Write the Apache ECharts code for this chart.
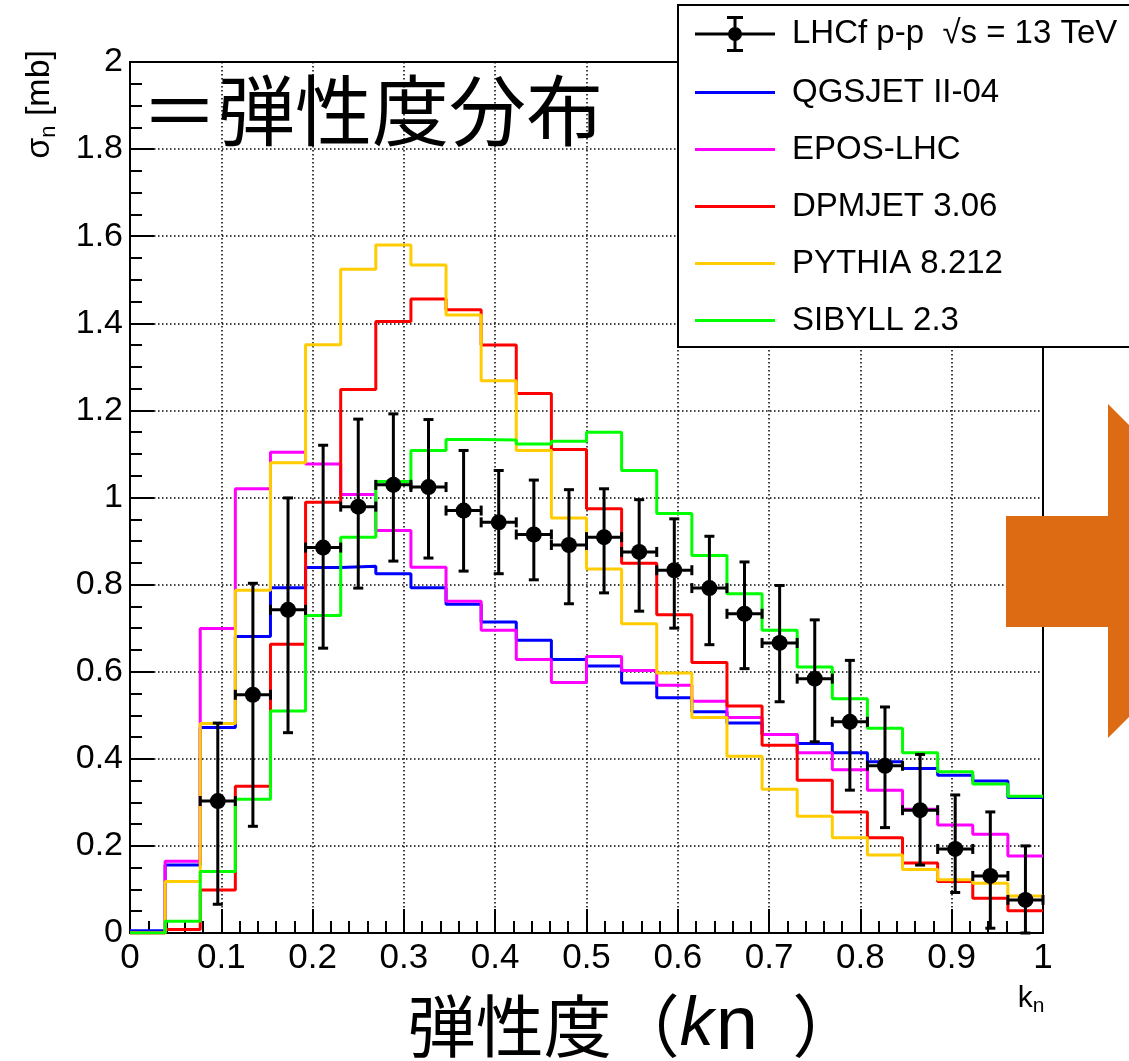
<!DOCTYPE html>
<html>
<head>
<meta charset="utf-8">
<script src="https://cdn.jsdelivr.net/npm/echarts@6/dist/echarts.min.js"></script>
<style>
  html, body { margin: 0; padding: 0; background: #fff; }
  #chart { width: 1129px; height: 1061px; }
</style>
</head>
<body>
<div id="chart"></div>
<script>
// 26 bins from 0 to 1 in k_n
const nBins = 26
const binWidth = 1 / nBins
const binEdges = Array.from({ length: nBins + 1 }, (_, i) => i * binWidth)

// MC predictions, one value per bin [mb]
const qgsjet = [0.005, 0.156, 0.472, 0.681, 0.793, 0.839, 0.842, 0.825, 0.793, 0.755, 0.714, 0.672, 0.628,
  0.613, 0.574, 0.540, 0.508, 0.482, 0.456, 0.435, 0.414, 0.393, 0.378, 0.362, 0.349, 0.311]
const eposLhc = [0.0, 0.165, 0.699, 1.020, 1.104, 1.077, 1.007, 0.924, 0.840, 0.762, 0.695, 0.628, 0.575,
  0.635, 0.603, 0.569, 0.532, 0.495, 0.456, 0.414, 0.375, 0.328, 0.284, 0.248, 0.227, 0.177]
const dpmjet = [0.0, 0.008, 0.099, 0.337, 0.663, 0.989, 1.248, 1.404, 1.456, 1.431, 1.350, 1.239, 1.110,
  0.974, 0.849, 0.731, 0.621, 0.521, 0.431, 0.351, 0.278, 0.219, 0.161, 0.118, 0.080, 0.051]
const pythia = [0.0, 0.118, 0.481, 0.787, 1.080, 1.351, 1.524, 1.580, 1.534, 1.419, 1.268, 1.108, 0.953,
  0.836, 0.710, 0.597, 0.495, 0.406, 0.330, 0.268, 0.219, 0.179, 0.146, 0.122, 0.114, 0.085]
const sibyll = [0.0, 0.027, 0.141, 0.307, 0.510, 0.729, 0.909, 1.037, 1.108, 1.133, 1.132, 1.123, 1.129,
  1.150, 1.062, 0.963, 0.867, 0.779, 0.695, 0.611, 0.538, 0.470, 0.414, 0.370, 0.342, 0.314]

// LHCf data, starting from the 3rd bin
const lhcfFirstBin = 2
const lhcfVal = [0.303, 0.547, 0.742, 0.885, 0.979, 1.029, 1.024, 0.970, 0.943, 0.915, 0.891, 0.909,
  0.875, 0.833, 0.792, 0.733, 0.666, 0.584, 0.485, 0.384, 0.282, 0.193, 0.131, 0.076]
const lhcfLow = [0.066, 0.245, 0.460, 0.654, 0.792, 0.854, 0.861, 0.831, 0.825, 0.811, 0.756, 0.781,
  0.739, 0.700, 0.662, 0.607, 0.531, 0.439, 0.328, 0.242, 0.156, 0.093, 0.011, 0.0]
const lhcfHigh = [0.482, 0.803, 0.999, 1.120, 1.180, 1.192, 1.179, 1.108, 1.062, 1.040, 1.018, 1.020,
  0.995, 0.951, 0.911, 0.852, 0.798, 0.719, 0.626, 0.519, 0.410, 0.317, 0.278, 0.200]

const yTicks = [0, 0.2, 0.4, 0.6, 0.8, 1, 1.2, 1.4, 1.6, 1.8, 2]
const xTicks = [0, 0.1, 0.2, 0.3, 0.4, 0.5, 0.6, 0.7, 0.8, 0.9, 1]

const dataName = 'LHCf p-p  \u221As = 13 TeV'
const models = [
  { name: 'QGSJET II-04', values: qgsjet, color: '#0000ff' },
  { name: 'EPOS-LHC', values: eposLhc, color: '#ff00ff' },
  { name: 'DPMJET 3.06', values: dpmjet, color: '#ff0000' },
  { name: 'PYTHIA 8.212', values: pythia, color: '#ffcc00' },
  { name: 'SIBYLL 2.3', values: sibyll, color: '#00ff00' }
]

const rootFont = '"Liberation Sans", Arial, Helvetica, sans-serif'
const cjkFont = '"Noto Sans CJK JP", "Noto Sans CJK SC", sans-serif'

// histogram outline: each bin gives two points (left edge, right edge)
function histPoints(vals) {
  const pts = []
  vals.forEach((v, i) => {
    pts.push([binEdges[i], v])
    pts.push([binEdges[i + 1], v])
  })
  return pts
}

const lhcfData = lhcfVal.map((v, i) => {
  const b = lhcfFirstBin + i
  return [(binEdges[b] + binEdges[b + 1]) / 2, v, lhcfLow[i], lhcfHigh[i]]
})

const chart = echarts.init(document.getElementById('chart'), null, { renderer: 'canvas' })

const lineSeries = models.map(m => ({
  name: m.name,
  type: 'line',
  data: histPoints(m.values),
  symbol: 'none',
  lineStyle: { color: m.color, width: 3 },
  itemStyle: { color: m.color },
  animation: false,
  z: 3
}))

const dataSeries = {
  name: dataName,
  type: 'custom',
  data: lhcfData,
  itemStyle: { color: '#000' },
  z: 5,
  animation: false,
  renderItem: (params, api) => {
    const x = api.value(0)
    const y = api.value(1)
    const hw = binWidth / 2
    const c = api.coord([x, y])
    const l = api.coord([x - hw, y])
    const r = api.coord([x + hw, y])
    const t = api.coord([x, api.value(3)])
    const b = api.coord([x, api.value(2)])
    const st = { stroke: '#000', lineWidth: 3 }
    const cap = 5
    const seg = (x1, y1, x2, y2) => ({ type: 'line', shape: { x1, y1, x2, y2 }, style: st })
    return {
      type: 'group',
      children: [
        seg(t[0], t[1], b[0], b[1]),
        seg(l[0], l[1], r[0], r[1]),
        seg(t[0] - cap, t[1], t[0] + cap, t[1]),
        seg(b[0] - cap, b[1], b[0] + cap, b[1]),
        seg(l[0], l[1] - cap, l[0], l[1] + cap),
        seg(r[0], r[1] - cap, r[0], r[1] + cap),
        { type: 'circle', shape: { cx: c[0], cy: c[1], r: 8 }, style: { fill: '#000' } }
      ]
    }
  }
}

const dataIcon = 'path://M0,16.5L80,16.5L80,19.5L0,19.5Z M38.5,0L41.5,0L41.5,36L38.5,36Z ' +
  'M32,0L48,0L48,3L32,3Z M32,33L48,33L48,36L32,36Z M33,18A7,7 0 1,1 47,18A7,7 0 1,1 33,18Z'
const lineIcon = 'path://M0,0L80,0L80,3L0,3Z'

const option = {
  backgroundColor: '#fff',
  animation: false,
  grid: {
    left: 130, top: 62, right: 86, bottom: 128,
    show: true, borderColor: '#000', borderWidth: 2, backgroundColor: 'transparent'
  },
  xAxis: {
    type: 'value', min: xTicks[0], max: xTicks[xTicks.length - 1], interval: 0.1,
    axisLine: { onZero: false, lineStyle: { color: '#000', width: 2 } },
    axisTick: { inside: true, length: 24, lineStyle: { color: '#000', width: 2 } },
    minorTick: { show: true, splitNumber: 5, length: 12, lineStyle: { color: '#000', width: 2 } },
    axisLabel: { fontFamily: rootFont, fontSize: 35, color: '#000', margin: 8 },
    splitLine: { show: true, lineStyle: { color: '#000', width: 1.5, type: [1.5, 2.5] } }
  },
  yAxis: {
    type: 'value', min: yTicks[0], max: yTicks[yTicks.length - 1], interval: 0.2,
    axisLine: { onZero: false, lineStyle: { color: '#000', width: 2 } },
    axisTick: { inside: true, length: 24, lineStyle: { color: '#000', width: 2 } },
    minorTick: { show: true, splitNumber: 4, length: 12, lineStyle: { color: '#000', width: 2 } },
    axisLabel: { fontFamily: rootFont, fontSize: 34, color: '#000', margin: 7 },
    splitLine: { show: true, lineStyle: { color: '#000', width: 1.5, type: [1.5, 2.5] } }
  },
  legend: {
    orient: 'vertical', left: 678, top: 5,
    itemWidth: 80, itemHeight: 36, itemGap: 24,
    padding: [11, 220, 10, 17],
    backgroundColor: '#fff', borderColor: '#000', borderWidth: 2,
    selectedMode: false,
    textStyle: { fontFamily: rootFont, fontSize: 33, color: '#000', padding: [0, 0, 0, 12] },
    data: [{ name: dataName, icon: dataIcon, itemStyle: { color: '#000' } }]
      .concat(models.map(m => ({ name: m.name, icon: lineIcon, itemStyle: { color: m.color } })))
  },
  graphic: [
    {
      type: 'text', x: 40, y: 50, rotation: Math.PI / 2, z: 50,
      style: {
        text: '{a|\u03C3}{b|n}{a| [mb]}', fontFamily: rootFont, fontSize: 34, lineHeight: 40, fill: '#000',
        align: 'right', verticalAlign: 'middle',
        rich: {
          a: { fontFamily: rootFont, fontSize: 34, lineHeight: 40, fill: '#000' },
          b: { fontFamily: rootFont, fontSize: 22, lineHeight: 16, verticalAlign: 'bottom', fill: '#000', padding: [6, 0, 0, 0] }
        }
      }
    },
    {
      type: 'text', x: 1031, y: 999, z: 50,
      style: {
        text: '{a|k}{b|n}', fontFamily: rootFont, fontSize: 30, fill: '#000', align: 'center', verticalAlign: 'middle',
        rich: {
          a: { fontFamily: rootFont, fontSize: 30, lineHeight: 36, fill: '#000' },
          b: { fontFamily: rootFont, fontSize: 21, lineHeight: 12, verticalAlign: 'bottom', fill: '#000', padding: [6, 0, 0, 0] }
        }
      }
    },
    {
      type: 'text', x: 141, y: 111, z: 50,
      style: { text: '\uFF1D弾性度分布', fontFamily: cjkFont, fontSize: 77, fill: '#000', align: 'left', verticalAlign: 'middle' }
    },
    {
      type: 'text', x: 634, y: 1026, z: 50,
      style: {
        text: '{c|弾性度（}{i|k}{s|n}{c|）}',
        fontFamily: cjkFont, fontSize: 68, lineHeight: 80, fill: '#000', align: 'center', verticalAlign: 'middle',
        rich: {
          c: { fontFamily: cjkFont, fontSize: 68, lineHeight: 80, fill: '#000' },
          i: { fontFamily: rootFont, fontStyle: 'italic', fontSize: 68, lineHeight: 80, fill: '#000' },
          s: { fontFamily: rootFont, fontSize: 76, lineHeight: 66, verticalAlign: 'bottom', fill: '#000', padding: [10, 34, 0, 2] }
        }
      }
    },
    {
      type: 'polygon', z: 60,
      shape: { points: [[1006, 516], [1108, 516], [1108, 404], [1275, 571], [1108, 738], [1108, 627], [1006, 627]] },
      style: { fill: '#dc6b13' }
    }
  ],
  series: lineSeries.concat([dataSeries])
}

chart.setOption(option)
</script>
</body>
</html>
